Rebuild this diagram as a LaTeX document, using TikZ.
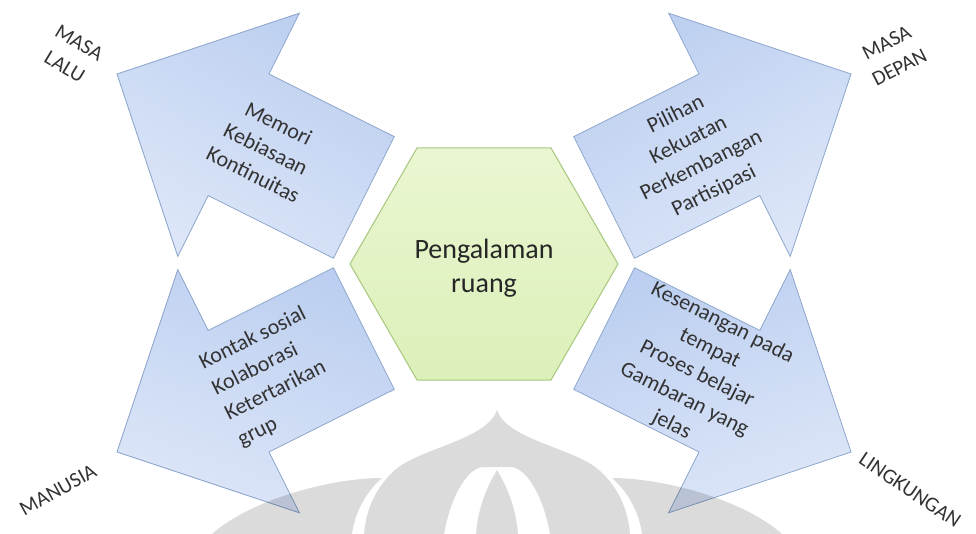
\documentclass[tikz,border=0pt]{standalone}
\usepackage{fontspec}
\setmainfont{Carlito}
\usetikzlibrary{shapes.geometric}
\definecolor{arrowdark}{HTML}{BCCFF0}
\definecolor{arrowlight}{HTML}{DDE6F8}
\definecolor{arrowline}{HTML}{8EA5CE}
\definecolor{hexfillA}{HTML}{EAF6D1}
\definecolor{hexfillB}{HTML}{DCF0B9}
\definecolor{hexline}{HTML}{A6C67C}
\definecolor{txt}{HTML}{333333}
\begin{document}
\begin{tikzpicture}[x=1pt,y=-1pt,
  bigarrow/.style={draw=arrowline, line width=0.8pt, line join=miter},
  armtext/.style={text=txt, font=\fontsize{22}{28.5}\selectfont, inner sep=0pt},
  sidelabel/.style={text=txt, font=\fontsize{21}{28}\selectfont, align=center, inner sep=0pt},
  wmark/.style={fill=black, fill opacity=0.14, draw=none}]
\useasboundingbox (0,0) rectangle (976,534);
% arrows
\draw[bigarrow, top color=arrowdark, bottom color=arrowlight, shading angle=-30]
  (394.3,136.6) -- (333.5,258.2) -- (208.2,195.6) -- (177.8,256.4) -- (117,74) -- (299.4,13.2) -- (269.0,74.0) -- cycle;
\draw[bigarrow, top color=arrowdark, bottom color=arrowlight, shading angle=30]
  (573.7,136.6) -- (634.5,258.2) -- (759.8,195.6) -- (790.2,256.4) -- (851,74) -- (668.6,13.2) -- (699,74) -- cycle;
\draw[bigarrow, top color=arrowdark, bottom color=arrowlight, shading angle=-20]
  (394.3,389.4) -- (333.5,267.8) -- (208.2,330.4) -- (177.8,269.6) -- (117,452) -- (299.4,512.8) -- (269,452) -- cycle;
\draw[bigarrow, top color=arrowdark, bottom color=arrowlight, shading angle=20]
  (573.7,389.4) -- (634.5,267.8) -- (759.8,330.4) -- (790.2,269.6) -- (851,452) -- (668.6,512.8) -- (699,452) -- cycle;
% hexagon
\node[regular polygon, regular polygon sides=6, minimum size=268pt, inner sep=0pt,
      draw=hexline, line width=1pt, top color=hexfillA, bottom color=hexfillB] (hex) at (484,264) {};
\node[font=\fontsize{28}{34}\selectfont, align=center, text=black!85, inner sep=0pt] (center) at (484,268) {Pengalaman\\ruang};
% arrow texts
\node[armtext, align=center, rotate=-26.57] (tltext) at (266,149) {Memori\\Kebiasaan\\Kontinuitas};
\node[armtext, align=center, rotate=26.57] (trtext) at (695,153) {Pilihan\\Kekuatan\\Perkembangan\\Partisipasi};
\node[armtext, align=left, rotate=26.57] (bltext) at (272,377) {Kontak sosial\\Kolaborasi\\Ketertarikan\\grup};
\node[armtext, align=center, rotate=-26.57] (brtext) at (697,374) {Kesenangan pada\\tempat\\Proses belajar\\Gambaran yang\\jelas};
% side labels
\node[sidelabel, rotate=-31] (lalu) at (72,55) {MASA\\LALU};
\node[sidelabel, rotate=27] (depan) at (893,55) {MASA\\DEPAN};
\node[sidelabel, rotate=29] (manusia) at (58,490) {MANUSIA};
\node[sidelabel, rotate=-34] (lingk) at (910,490) {LINGKUNGAN};
% watermark
\fill[wmark, even odd rule]
  (497,410) .. controls (487,440) and (420,448) .. (395,470) .. controls (375,488) and (366,510) .. (364,534)
  -- (630,534) .. controls (628,510) and (619,488) .. (599,470) .. controls (574,448) and (507,440) .. (497,410) -- cycle
  (444,534) .. controls (450,500) and (465,470) .. (482,467) -- (512,467) .. controls (529,470) and (544,500) .. (550,534) -- cycle;
\fill[wmark] (497,470) .. controls (485,490) and (478,510) .. (476,534) -- (518,534) .. controls (516,510) and (509,490) .. (497,470) -- cycle;
\fill[wmark] (382,478) .. controls (366,492) and (355,512) .. (352,534) -- (212,534) .. controls (250,500) and (330,478) .. (382,478) -- cycle;
\fill[wmark] (612,478) .. controls (628,492) and (639,512) .. (642,534) -- (782,534) .. controls (744,500) and (664,478) .. (612,478) -- cycle;
\end{tikzpicture}
\end{document}
